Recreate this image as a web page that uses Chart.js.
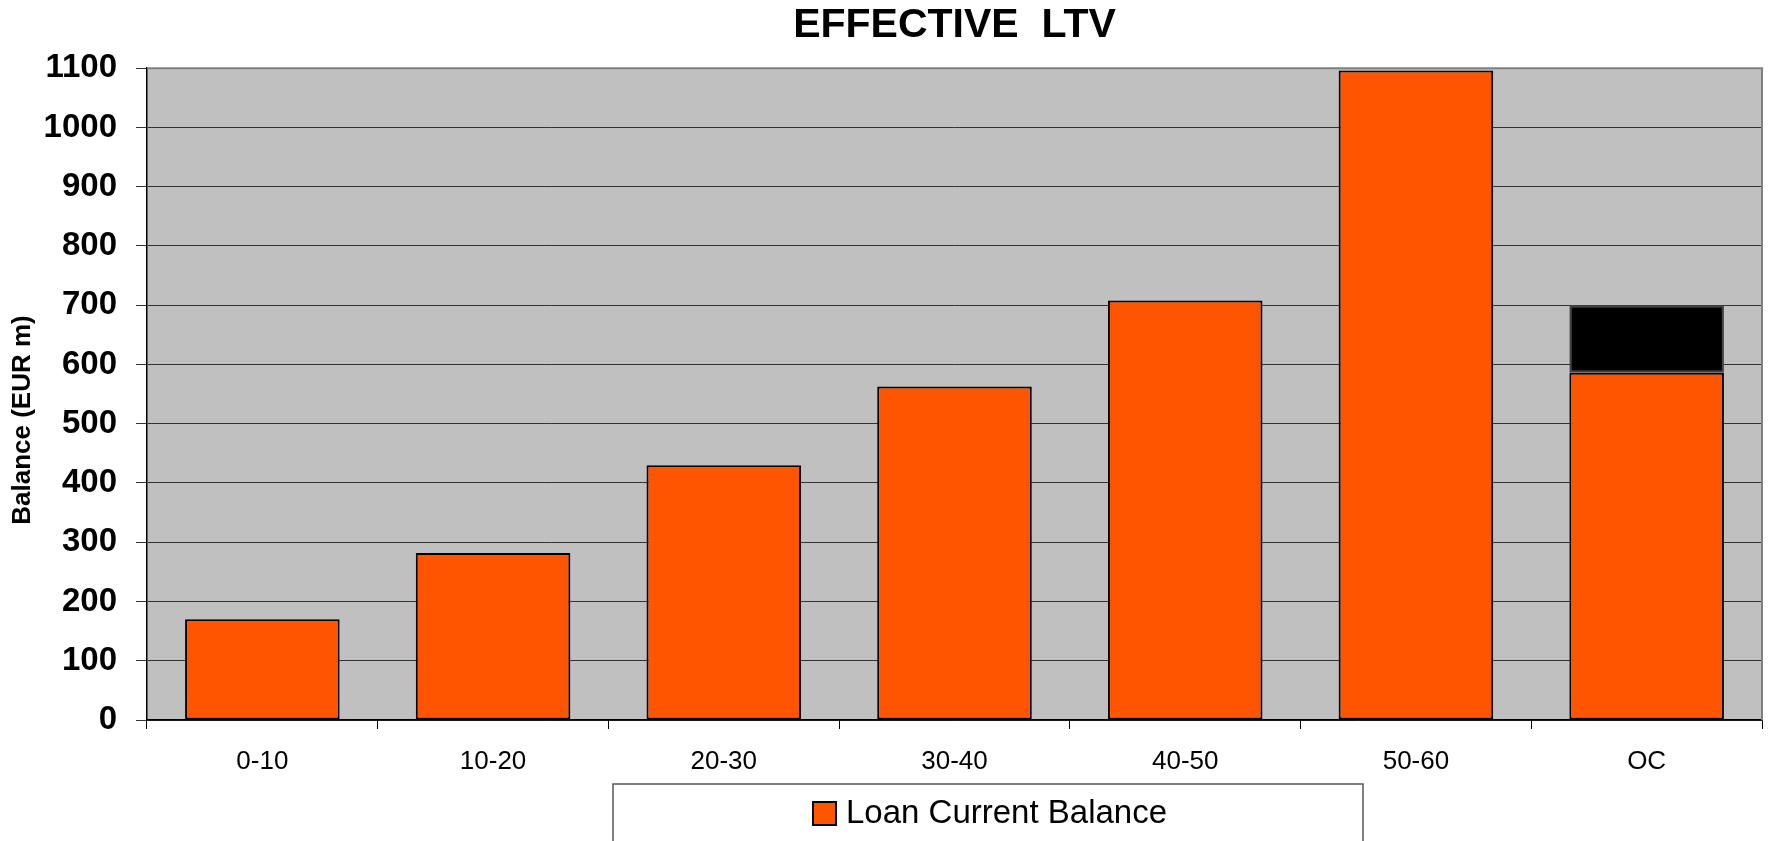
<!DOCTYPE html>
<html>
<head>
<meta charset="utf-8">
<title>Effective LTV</title>
<script src="https://cdn.jsdelivr.net/npm/chart.js@4/dist/chart.umd.min.js"></script>
<style>
  body { margin: 0; background: #fff; }
  canvas { display: block; }
</style>
</head>
<body>
<canvas id="chartCanvas" width="1770" height="841"></canvas>
<script>
var FONT = "'Liberation Sans', Arial, sans-serif";

// data
var categories = ['0-10', '10-20', '20-30', '30-40', '40-50', '50-60', 'OC'];
var loanBalance = [170, 282, 430, 563, 708, 1096, 586];
var ocExcess = [null, null, null, null, null, null, 114];
var yTicks = [0, 100, 200, 300, 400, 500, 600, 700, 800, 900, 1000, 1100];

// grey plot background + border, y axis title, boxed legend
var decor = {
  id: 'decor',
  beforeDraw: function(chart) {
    var a = chart.chartArea, c = chart.ctx;
    c.save();
    c.fillStyle = '#c0c0c0';
    c.fillRect(a.left, a.top, a.right - a.left, a.bottom - a.top);
    c.restore();
  },
  afterDatasetsDraw: function(chart) {
    var a = chart.chartArea, c = chart.ctx;
    c.save();
    c.strokeStyle = '#808080';
    c.lineWidth = 2;
    c.beginPath();
    c.moveTo(a.left, a.top);
    c.lineTo(a.right, a.top);
    c.lineTo(a.right, a.bottom);
    c.stroke();
    c.restore();
  },
  afterDraw: function(chart) {
    var c = chart.ctx;
    var ds = chart.data.datasets[0];
    c.save();
    // y axis title
    c.translate(23, 420);
    c.rotate(-Math.PI / 2);
    c.font = 'bold 26px ' + FONT;
    c.fillStyle = '#000';
    c.textAlign = 'center';
    c.textBaseline = 'middle';
    c.fillText('Balance (EUR m)', 0, 0);
    c.restore();

    // legend box
    c.save();
    c.strokeStyle = '#555';
    c.lineWidth = 1.5;
    c.strokeRect(613, 784, 750, 80);
    c.fillStyle = ds.backgroundColor;
    c.fillRect(813, 802, 23, 23);
    c.strokeStyle = '#000';
    c.lineWidth = 2;
    c.strokeRect(813, 802, 23, 23);
    c.fillStyle = '#000';
    c.font = '33px ' + FONT;
    c.textBaseline = 'alphabetic';
    c.fillText(ds.label, 846, 823);
    c.restore();
  }
};

var ctx = document.getElementById('chartCanvas').getContext('2d');
var chart = new Chart(ctx, {
  type: 'bar',
  data: {
    labels: categories,
    datasets: [
      {
        label: 'Loan Current Balance',
        data: loanBalance,
        backgroundColor: '#ff5500',
        borderColor: '#000',
        borderWidth: 2,
        borderSkipped: false,
        barPercentage: 0.67,
        categoryPercentage: 1
      },
      {
        label: 'OC',
        data: ocExcess,
        backgroundColor: '#000',
        borderColor: '#444',
        borderWidth: 2,
        borderSkipped: false,
        barPercentage: 0.67,
        categoryPercentage: 1
      }
    ]
  },
  options: {
    responsive: false,
    animation: false,
    layout: {
      padding: { left: 0, right: 8, top: 0, bottom: 0 }
    },
    plugins: {
      legend: { display: false },
      tooltip: { enabled: false },
      title: {
        display: true,
        text: 'EFFECTIVE  LTV',
        fullSize: false,
        color: '#000',
        font: { family: FONT, size: 41, weight: 'bold' },
        padding: { top: 1, bottom: 18 }
      }
    },
    scales: {
      x: {
        stacked: true,
        offset: true,
        afterFit: function(scale) { scale.height = 121; },
        grid: {
          offset: true,
          drawOnChartArea: false,
          drawTicks: true,
          tickLength: 9,
          color: '#000'
        },
        border: { display: true, color: '#000', width: 1.5 },
        ticks: {
          color: '#000',
          padding: 17,
          font: { family: FONT, size: 26 }
        }
      },
      y: {
        stacked: true,
        min: 0,
        max: 1100,
        afterFit: function(scale) { scale.width = 147; },
        afterBuildTicks: function(scale) {
          scale.ticks = yTicks.map(function(v) { return { value: v }; });
        },
        grid: {
          color: '#333',
          lineWidth: 1,
          drawTicks: true,
          tickLength: 11
        },
        border: { display: true, color: '#000', width: 1.5 },
        ticks: {
          color: '#000',
          padding: 19,
          font: { family: FONT, size: 33, weight: 'bold' },
          callback: function(v) { return String(v); }
        }
      }
    }
  },
  plugins: [decor]
});
</script>
</body>
</html>
